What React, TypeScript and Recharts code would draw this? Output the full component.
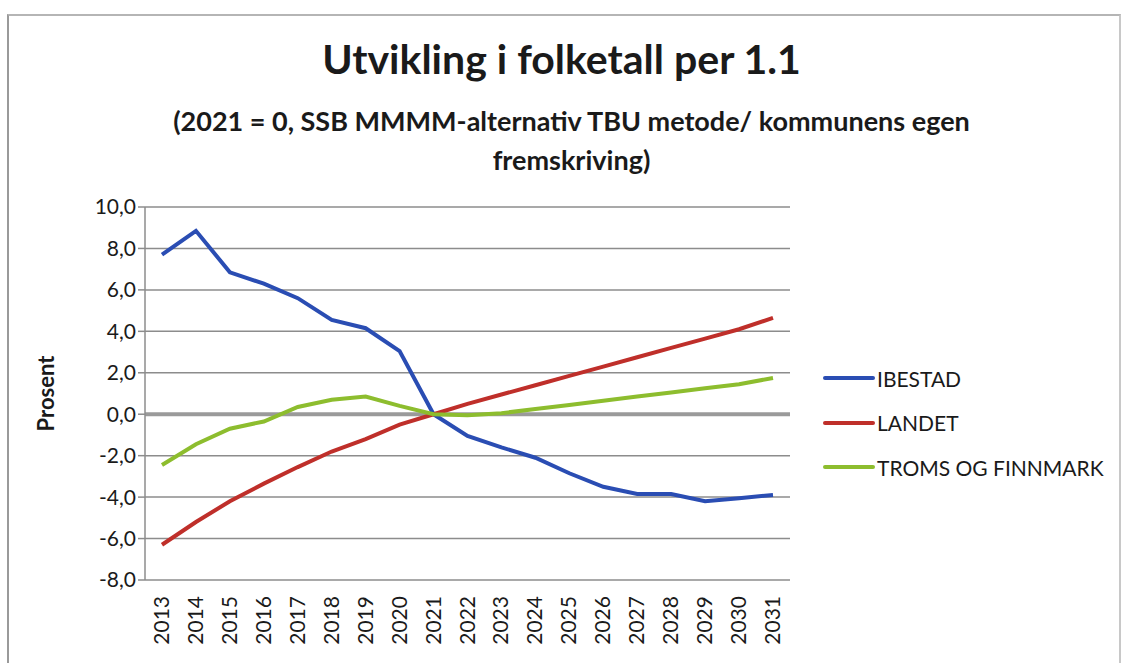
import React from 'react'
import {
  CartesianGrid,
  Line,
  LineChart,
  ReferenceLine,
  XAxis,
  YAxis,
} from 'recharts'

const years = [
  '2013', '2014', '2015', '2016', '2017', '2018', '2019', '2020', '2021', '2022',
  '2023', '2024', '2025', '2026', '2027', '2028', '2029', '2030', '2031',
]

const ibestad = [
  7.7, 8.85, 6.85, 6.3, 5.6, 4.55, 4.15, 3.05, 0, -1.05,
  -1.6, -2.1, -2.85, -3.5, -3.85, -3.85, -4.2, -4.05, -3.9,
]
const landet = [
  -6.3, -5.2, -4.2, -3.35, -2.55, -1.8, -1.2, -0.5, 0, 0.5,
  0.95, 1.4, 1.85, 2.3, 2.75, 3.2, 3.65, 4.1, 4.65,
]
const tromsFinnmark = [
  -2.45, -1.45, -0.7, -0.35, 0.35, 0.7, 0.85, 0.4, 0, -0.05,
  0.05, 0.25, 0.45, 0.65, 0.85, 1.05, 1.25, 1.45, 1.75,
]

const yTicks = [-8, -6, -4, -2, 0, 2, 4, 6, 8, 10]

const series = [
  { key: 'ibestad', name: 'IBESTAD', color: '#2a4db3' },
  { key: 'landet', name: 'LANDET', color: '#bf2f2a' },
  { key: 'troms', name: 'TROMS OG FINNMARK', color: '#8dbd2e' },
]

const data = years.map((year, i) => ({
  year,
  ibestad: ibestad[i],
  landet: landet[i],
  troms: tromsFinnmark[i],
}))

const FONT = 'Lato, "Open Sans", sans-serif'
const fmt = (v: number) => v.toFixed(1).replace('.', ',')

// Legend sits outside the plot so it doesn't shrink the chart area
function LegendBox() {
  return (
    <div style={{ position: 'absolute', left: 823, top: 356, fontFamily: FONT }}>
      {series.map((s) => (
        <div key={s.key} style={{ display: 'flex', alignItems: 'center', height: 44.5 }}>
          <div style={{ width: 52, height: 4, borderRadius: 2, background: s.color }} />
          <span style={{ fontSize: 21, color: '#1a1a1a', marginLeft: 2 }}>{s.name}</span>
        </div>
      ))}
    </div>
  )
}

function YearTick({ x, y, payload }: any) {
  return (
    <text
      x={x}
      y={y + 8}
      transform={`rotate(-90, ${x}, ${y + 8})`}
      dy={7}
      textAnchor="end"
      fontSize={21}
      fill="#1a1a1a"
      fontFamily={FONT}
    >
      {payload.value}
    </text>
  )
}

export default function App() {
  return (
    <div
      style={{
        position: 'fixed',
        left: 0,
        top: 0,
        width: 1123,
        height: 663,
        background: '#fff',
        fontFamily: FONT,
      }}
    >
      <div
        style={{
          position: 'absolute',
          left: 7,
          top: 14,
          width: 1110,
          height: 660,
          borderLeft: '2px solid #9a9a9a',
          borderTop: '2px solid #b5b5b5',
          borderRight: '2px solid #c8c8c8',
        }}
      />
      <div
        style={{
          position: 'absolute',
          left: 0,
          width: 1123,
          top: 34,
          textAlign: 'center',
          fontWeight: 700,
          fontSize: 41,
          color: '#1a1a1a',
        }}
      >
        Utvikling i folketall per 1.1
      </div>
      <div
        style={{
          position: 'absolute',
          left: 0,
          width: 1123,
          top: 101,
          paddingLeft: 10,
          textAlign: 'center',
          fontWeight: 700,
          fontSize: 27,
          lineHeight: '39px',
          color: '#1a1a1a',
        }}
      >
        (2021 = 0, SSB MMMM-alternativ TBU metode/ kommunens egen
        <br />
        fremskriving)
      </div>
      <LineChart
        width={1123}
        height={663}
        data={data}
        margin={{ top: 207, right: 333, bottom: 7, left: 0 }}
      >
        <CartesianGrid horizontal vertical={false} stroke="#8c8c8c" strokeWidth={1.5} />
        <XAxis
          dataKey="year"
          interval={0}
          padding={{ left: 17, right: 17 }}
          axisLine={false}
          tickLine={false}
          height={76}
          tick={<YearTick />}
        />
        <YAxis
          domain={[-8, 10]}
          ticks={yTicks}
          interval={0}
          width={145}
          tickFormatter={fmt}
          axisLine={{ stroke: '#8c8c8c', strokeWidth: 1.5 }}
          tickLine={{ stroke: '#8c8c8c', strokeWidth: 1.5 }}
          tickSize={7}
          tick={{ fontSize: 21, fill: '#1a1a1a', fontFamily: FONT }}
          label={{
            value: 'Prosent',
            angle: -90,
            position: 'insideLeft',
            offset: 46,
            style: { fontSize: 22, fontWeight: 700, fill: '#1a1a1a', fontFamily: FONT, textAnchor: 'middle' },
          }}
        />
        <ReferenceLine y={0} stroke="#9a9a9a" strokeWidth={4} />
        {series.map((s) => (
          <Line
            key={s.key}
            type="linear"
            dataKey={s.key}
            name={s.name}
            stroke={s.color}
            strokeWidth={4}
            dot={false}
            activeDot={false}
            isAnimationActive={false}
          />
        ))}
      </LineChart>
      <LegendBox />
    </div>
  )
}
